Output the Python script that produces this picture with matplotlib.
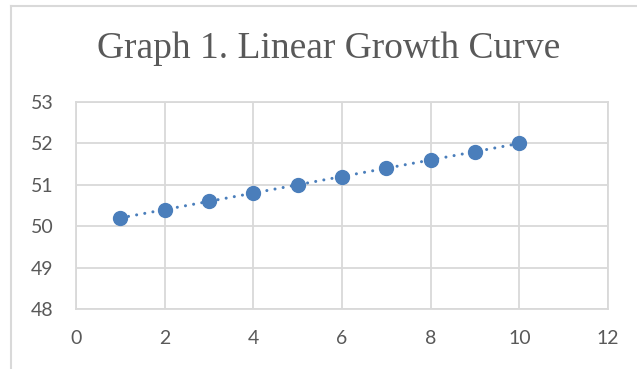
import matplotlib
matplotlib.use("Agg")
import matplotlib.pyplot as plt
from matplotlib.lines import Line2D

x_vals = [1, 2, 3, 4, 5, 6, 7, 8, 9, 10]
y_vals = [50.2, 50.4, 50.6, 50.8, 51.0, 51.2, 51.4, 51.6, 51.8, 52.0]
x_ticks = [0, 2, 4, 6, 8, 10, 12]
y_ticks = [48, 49, 50, 51, 52, 53]
title = "Graph 1. Linear Growth Curve"

W, H, DPI = 637, 369, 100
fig = plt.figure(figsize=(W / DPI, H / DPI), dpi=DPI)
fig.patch.set_facecolor("white")

left, right, top, bottom = 76, 608, 102, 309
ax = fig.add_axes([left / W, 1 - bottom / H, (right - left) / W, (bottom - top) / H])

color = "#4a7ebb"
grid = "#d9d9d9"
ax.plot(x_vals, y_vals, color=color, lw=2.2, linestyle=(0, (0.01, 2.7)),
        dash_capstyle="round", zorder=3)
ax.plot(x_vals, y_vals, linestyle="none", marker="o", markersize=10,
        color=color, zorder=4, clip_on=False)

ax.set_xlim(0, 12)
ax.set_ylim(48, 53)
ax.set_xticks(x_ticks)
ax.set_yticks(y_ticks)
ax.grid(True, color=grid, lw=1.3)
ax.set_axisbelow(True)
for s in ax.spines.values():
    s.set_color(grid)
    s.set_linewidth(1.3)
ax.tick_params(length=0, labelsize=14, labelcolor="#595959")
for lab in ax.get_xticklabels() + ax.get_yticklabels():
    lab.set_family("Lato")
ax.tick_params(axis="y", pad=16)
ax.tick_params(axis="x", pad=15)

fig.text(329 / W, 1 - 49 / H, title, ha="center", va="center",
         fontsize=27, family="Liberation Serif", color="#595959")

# chart frame (top and left edges visible)
fig.add_artist(Line2D([11 / W, 1.0], [1 - 6 / H, 1 - 6 / H], color="#d9d9d9", lw=1.5,
                      transform=fig.transFigure))
fig.add_artist(Line2D([11 / W, 11 / W], [0, 1 - 6 / H], color="#d9d9d9", lw=1.5,
                      transform=fig.transFigure))

fig.savefig("out.png", dpi=DPI)
